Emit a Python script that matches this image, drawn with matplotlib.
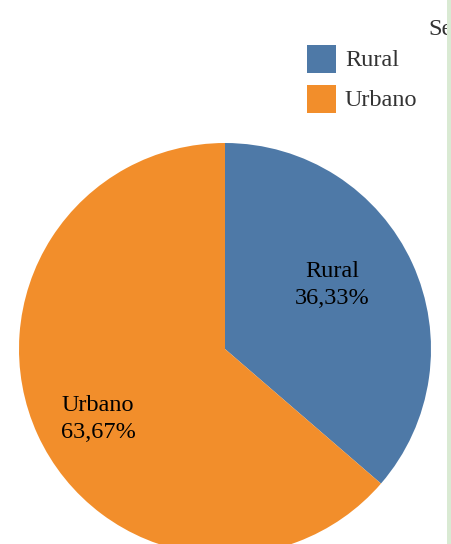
import numpy as np
import matplotlib
matplotlib.use("Agg")
import matplotlib.pyplot as plt
from matplotlib.patches import Rectangle

# dados
labels = ["Rural", "Urbano"]
values = [36.33, 63.67]
colors = ["#4e79a7", "#f28e2b"]

plt.rcParams['font.family'] = ['Liberation Serif', 'DejaVu Serif']

W, H = 451, 544
fig = plt.figure(figsize=(W / 100, H / 100), dpi=100)
ax = fig.add_axes([0, 0, 1, 1])

# pizza (coordenadas em pixels, y para cima)
cx, cy, r = 225, H - 349, 206
wedges, _ = ax.pie(values, colors=colors, startangle=90, counterclock=False,
                   center=(cx, cy), radius=r, frame=True,
                   wedgeprops=dict(linewidth=0))
ax.set_xlim(0, W)
ax.set_ylim(0, H)
ax.set_aspect('equal')
ax.axis('off')

# rótulos dentro das fatias
def fmt(v):
    return f"{v:.2f}".replace(".", ",") + "%"

fs = 17.5
label_pos = [(332, 277), (98, 411)]  # x central, linha de base da 1a linha (px a partir do topo)
for lab, v, (lx, by) in zip(labels, values, label_pos):
    ax.text(lx, H - by, lab, ha='center', va='baseline', fontsize=fs, color='black')
    ax.text(lx, H - by - 27, fmt(v), ha='center', va='baseline', fontsize=fs, color='black')

# legenda manual
leg_y = [H - 73, H - 113]
for lab, c, y0 in zip(labels, colors, leg_y):
    ax.add_patch(Rectangle((307, y0), 29, 28, facecolor=c, edgecolor='none'))
    ax.text(345, y0 + 6.5, lab, ha='left', va='baseline', fontsize=fs,
            color='#333333')

# título cortado
ax.text(428, H - 35, "Se", ha='left', va='baseline', fontsize=fs,
        color='#333333', clip_on=False)

# barra verde à direita
fig.patches.append(Rectangle((447 / W, 0), 4 / W, 1, transform=fig.transFigure,
                             facecolor='#d9ead3', edgecolor='none', zorder=10))

fig.savefig("out.png", dpi=100)
